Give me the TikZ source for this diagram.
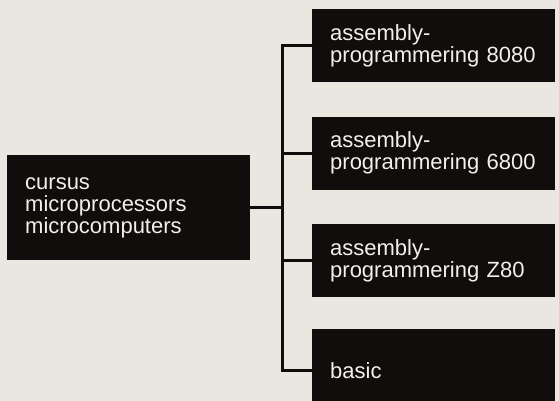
\documentclass[tikz,border=0pt]{standalone}
\usepackage{fontspec}
\setmainfont{Liberation Sans}
\usetikzlibrary{positioning}

\definecolor{paper}{HTML}{EAE7E1}
\definecolor{boxblack}{HTML}{110D0D}
\definecolor{boxtext}{HTML}{F2F0EC}

\begin{document}
\begin{tikzpicture}[
  x=1pt, y=-1pt,
  line/.style={line width=3pt, boxblack},
  mainbox/.style={
    fill=boxblack, text=boxtext, align=left, anchor=north west,
    minimum width=243pt, minimum height=105pt,
    text width=207pt, inner xsep=18pt,
    font=\fontsize{22}{22}\selectfont
  },
  cbox/.style={
    fill=boxblack, text=boxtext, align=left,
    minimum width=243pt, minimum height=73pt,
    text width=207pt, inner xsep=18pt,
    font=\fontsize{22}{22}\selectfont
  }
]

% Background
\fill[paper] (0,0) rectangle (559,401);
\useasboundingbox (0,0) rectangle (559,401);

% Left node
\node[mainbox] (main) at (7,155) {cursus\\microprocessors\\microcomputers};

% Course boxes
\node[cbox, anchor=north west] (c1) at (312,9) {assembly-\\programmering 8080};
\node[cbox, below=34pt of c1] (c2) {assembly-\\programmering 6800};
\node[cbox, below=34pt of c2] (c3) {assembly-\\programmering Z80};
\node[cbox, below=32pt of c3, minimum height=82pt] (c4) {basic};

% Bus and connectors
\coordinate (split) at (282,0 |- main.east);
\draw[line] (main.east) -- (split);
\draw[line] (c1.west) -| (split) |- (c4.west);
\draw[line] (split |- c2.west) -- (c2.west);
\draw[line] (split |- c3.west) -- (c3.west);

\end{tikzpicture}
\end{document}
